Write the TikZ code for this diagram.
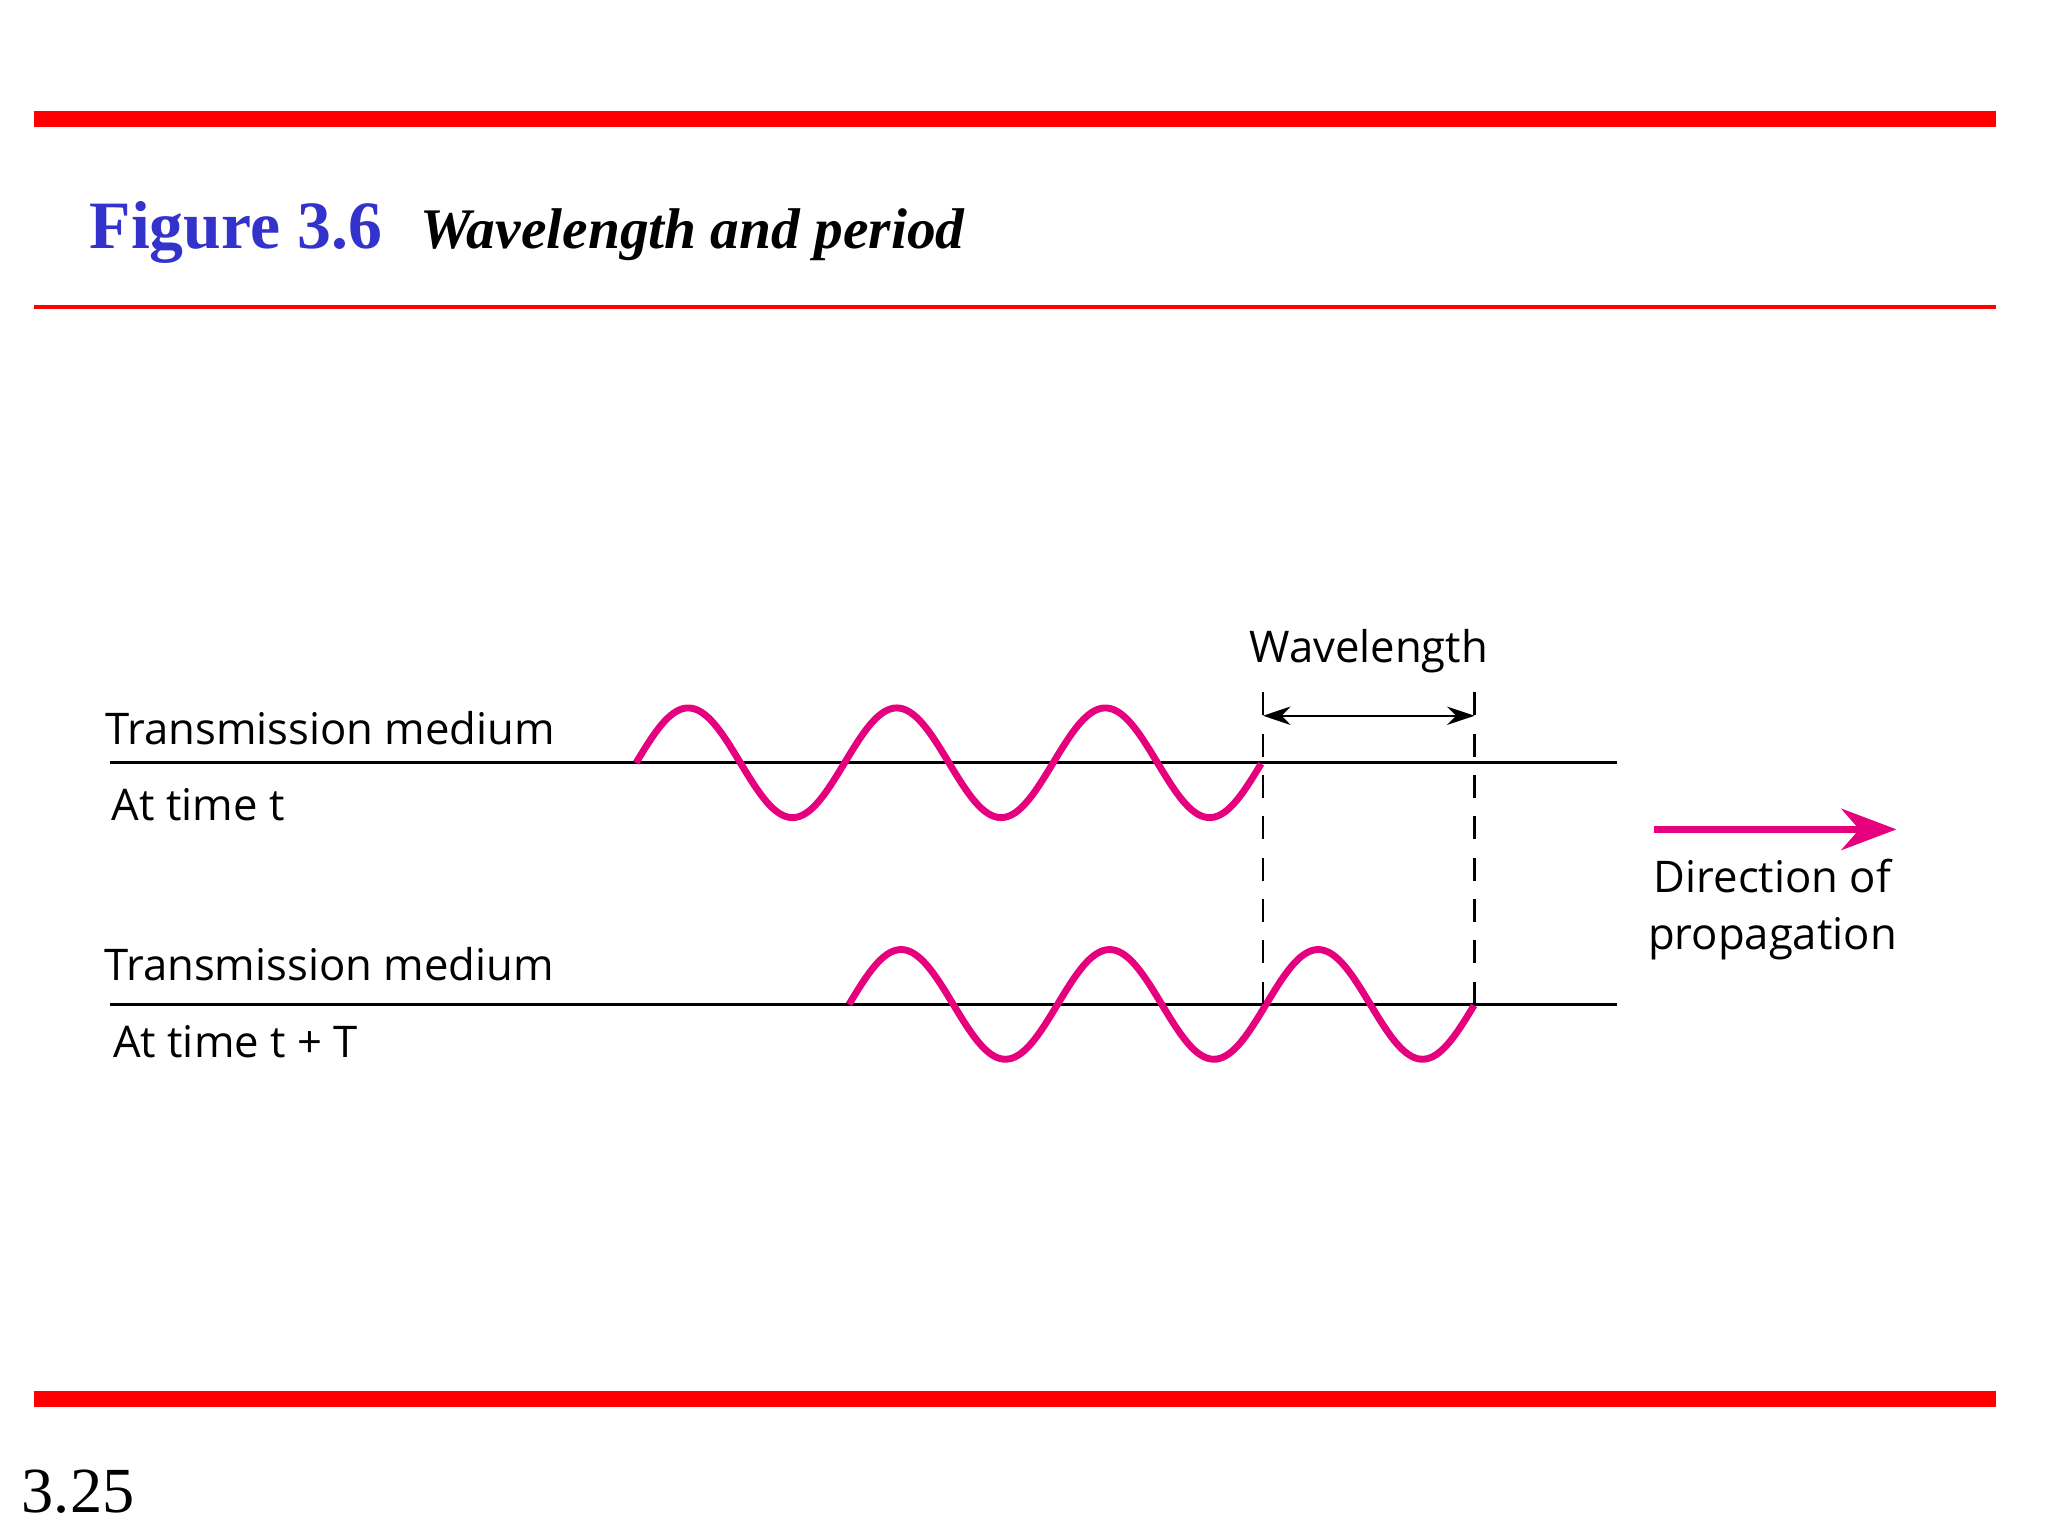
\documentclass[tikz,border=0pt]{standalone}
\usepackage{fontspec}
\setmainfont{Liberation Serif}
\newfontfamily\lblfont{Open Sans}
\usetikzlibrary{arrows.meta}
\definecolor{mag}{RGB}{230,0,126}
\definecolor{figblue}{RGB}{51,51,204}
\begin{document}
\begin{tikzpicture}[x=0.01cm,y=-0.01cm,
  lbl/.style={font=\lblfont\fontsize{9.5}{12}\selectfont,inner sep=0pt},
  medium/.style={line width=0.7pt},
  wave/.style={mag,line width=1.5pt},
  dashln/.style={line width=0.6pt,dash pattern=on 5pt off 4pt}]
\useasboundingbox (0,0) rectangle (1568,1176);
\fill[white] (0,0) rectangle (1568,1176);
\draw[red,line width=3.4pt] (26,91) -- (1528,91);
\draw[red,line width=0.85pt] (26,235) -- (1528,235);
\draw[red,line width=3.4pt] (26,1071) -- (1528,1071);
\node[anchor=base west,inner sep=0pt,text=figblue,font=\bfseries\fontsize{14.75}{18}\selectfont] (fig) at (68,190) {Figure 3.6};
\node[anchor=base west,inner sep=0pt,font=\bfseries\itshape\fontsize{12.5}{14}\selectfont] (ttl) at (321,190) {Wavelength and period};
\node[anchor=base west,inner sep=0pt,font=\fontsize{14}{16}\selectfont] (pg) at (16,1158) {3.25};
% media
\coordinate (m1a) at (84,584); \coordinate (m1b) at (1238,584);
\coordinate (m2a) at (84,769); \coordinate (m2b) at (1238,769);
\draw[medium] (m1a) -- (m1b);
\draw[medium] (m2a) -- (m2b);
\node[lbl,anchor=base west] (t1) at (80,570) {Transmission medium};
\node[lbl,anchor=base west] (a1) at (85,628) {At time t};
\node[lbl,anchor=base west] (t2) at (79,751) {Transmission medium};
\node[lbl,anchor=base west] (a2) at (86,810) {At time t + T};
% waves
\draw[wave] plot[domain=0:3,samples=200,smooth] ({\x*159.67+487},{584-42*sin(\x*360)});
\draw[wave] plot[domain=0:3,samples=200,smooth] ({\x*159.67+650},{769-42*sin(\x*360)});
% wavelength
\coordinate (d1t) at (967,530); \coordinate (d1b) at (967,769);
\coordinate (d2t) at (1129,530); \coordinate (d2b) at (1129,769);
\draw[dashln] (d1t) -- (d1b);
\draw[dashln] (d2t) -- (d2b);
\coordinate (w1) at (967,548); \coordinate (w2) at (1129,548);
\draw[{Stealth[length=6pt,width=4pt]}-{Stealth[length=6pt,width=4pt]},line width=0.5pt] (w1) -- (w2);
\node[lbl,anchor=base] (wl) at (1048,507) {Wavelength};
% direction
\coordinate (p1) at (1266,635); \coordinate (p2) at (1452,635);
\draw[mag,line width=1.5pt,-{Stealth[length=12pt,width=9pt]}] (p1) -- (p2);
\node[lbl,anchor=base,align=center] (dir) at (1357,683) {Direction of};
\node[lbl,anchor=base,align=center] (prop) at (1357,727) {propagation};
\end{tikzpicture}
\end{document}
